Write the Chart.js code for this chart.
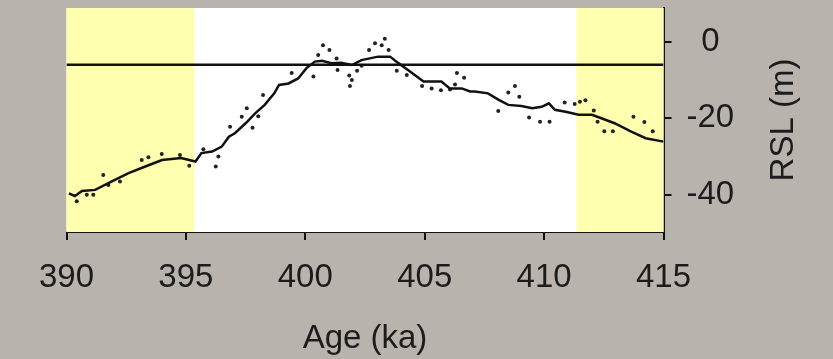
<!DOCTYPE html>
<html>
<head>
<meta charset="utf-8">
<script src="https://cdn.jsdelivr.net/npm/chart.js@4.4.1/dist/chart.umd.min.js"></script>
<style>
  body { margin: 0; background: #b8b3ac; }
  #caixa { width: 833px; height: 359px; position: relative; }
</style>
</head>
<body>
<div id="caixa"><canvas id="grafico"></canvas></div>
<script>
// curva suavizada (idade em ka, RSL em m)
const idadeCurva = [390.1, 390.35, 390.65, 391.2, 391.9, 392.6, 393.3, 394.0, 394.8, 395.4, 395.65, 396.1, 396.5, 396.8, 397.05, 397.5, 397.9, 398.3, 398.7, 398.9, 399.3, 399.7, 400.05, 400.4, 400.7, 401.1, 401.5, 401.95, 402.35, 403.05, 403.55, 403.9, 404.3, 404.95, 405.7, 406.05, 406.55, 406.9, 407.1, 407.65, 408.1, 408.5, 409.05, 409.5, 409.9, 410.2, 410.45, 410.9, 411.45, 412.0, 412.4, 412.95, 413.65, 414.25, 415.0]
const rslCurva = [-39.6, -40.3, -39.0, -38.7, -36.5, -34.3, -32.6, -30.9, -30.4, -31.3, -29.1, -28.7, -27.4, -24.8, -23.9, -21.3, -18.7, -16.5, -13.5, -11.3, -10.9, -9.6, -6.9, -5.2, -5.0, -5.6, -5.5, -6.1, -4.8, -3.9, -3.9, -5.6, -7.4, -10.4, -10.4, -12.2, -12.2, -13.0, -13.0, -13.5, -15.2, -16.5, -16.8, -17.4, -17.0, -16.1, -17.8, -18.3, -19.1, -19.1, -20.0, -21.3, -23.5, -25.2, -26.1]

// pontos medidos
const idadePontos = [390.43, 390.85, 391.12, 391.54, 391.75, 392.24, 393.15, 393.43, 393.99, 394.75, 395.14, 395.73, 396.25, 396.36, 396.85, 397.34, 397.55, 397.79, 398.03, 398.23, 399.43, 400.34, 400.54, 400.74, 401.01, 401.31, 401.35, 401.84, 401.95, 401.87, 402.17, 402.36, 402.67, 402.92, 403.2, 403.33, 403.49, 403.83, 404.25, 404.89, 405.29, 405.68, 406.06, 406.27, 406.35, 406.65, 408.08, 408.5, 408.78, 408.96, 409.37, 409.83, 410.23, 410.86, 411.28, 411.5, 411.73, 412.08, 412.24, 412.52, 412.88, 413.74, 414.2, 414.55]
const rslPontos = [-41.7, -40.0, -40.0, -34.8, -37.4, -36.5, -30.9, -30.2, -29.3, -29.6, -32.4, -28.1, -32.6, -30.0, -22.2, -19.6, -17.4, -22.5, -19.5, -13.9, -8.2, -9.1, -3.5, -0.9, -2.2, -4.4, -7.4, -8.8, -10.0, -11.6, -7.6, -6.3, -2.2, -0.4, -0.9, 0.8, -2.2, -7.6, -8.7, -11.6, -12.2, -12.7, -12.5, -11.2, -8.2, -9.4, -18.1, -13.3, -11.6, -14.4, -19.8, -20.9, -20.9, -15.9, -16.3, -15.7, -15.3, -18.0, -20.9, -23.4, -23.4, -19.6, -21.0, -23.4]

const faixasAmarelas = [[390, 395.35], [411.35, 415]]
const nivelReferencia = -6
const ticksRsl = [0, -20, -40]

const fonte = { family: "'Liberation Sans', Arial, sans-serif", size: 33 }
const corTexto = '#1c1c1c'

const pontosCurva = idadeCurva.map((x, i) => ({ x: x, y: rslCurva[i] }))
const pontosMedidos = idadePontos.map((x, i) => ({ x: x, y: rslPontos[i] }))

// fundo branco + faixas amarelas
const fundoPlugin = {
  id: 'fundo',
  beforeDatasetsDraw(chart) {
    const { ctx, chartArea, scales } = chart
    ctx.save()
    ctx.fillStyle = '#ffffff'
    ctx.fillRect(chartArea.left, chartArea.top, chartArea.right - chartArea.left, chartArea.bottom - chartArea.top)
    ctx.fillStyle = '#ffffb0'
    faixasAmarelas.forEach((f) => {
      const x1 = scales.x.getPixelForValue(f[0])
      const x2 = scales.x.getPixelForValue(f[1])
      ctx.fillRect(x1, chartArea.top, x2 - x1, chartArea.bottom - chartArea.top)
    })
    ctx.restore()
  }
}

// titulo do eixo y lido de baixo para cima
const tituloPlugin = {
  id: 'tituloRsl',
  afterDraw(chart) {
    const { ctx, chartArea } = chart
    ctx.save()
    ctx.translate(chartArea.right + 120.5, (chartArea.top + chartArea.bottom) / 2)
    ctx.rotate(-Math.PI / 2)
    ctx.font = fonte.size + 'px ' + fonte.family
    ctx.fillStyle = corTexto
    ctx.textAlign = 'center'
    ctx.textBaseline = 'middle'
    ctx.fillText('RSL (m)', 0, 0)
    ctx.restore()
  }
}

const grafico = new Chart(document.getElementById('grafico'), {
  type: 'scatter',
  data: {
    datasets: [
      {
        label: 'referencia',
        type: 'line',
        data: [{ x: 390, y: nivelReferencia }, { x: 415, y: nivelReferencia }],
        borderColor: '#111',
        borderWidth: 2.5,
        pointRadius: 0
      },
      {
        label: 'curva',
        type: 'line',
        data: pontosCurva,
        borderColor: '#111',
        borderWidth: 2.5,
        pointRadius: 0,
        tension: 0
      },
      {
        label: 'pontos',
        data: pontosMedidos,
        backgroundColor: '#222',
        borderWidth: 0,
        pointRadius: 2
      }
    ]
  },
  options: {
    responsive: true,
    maintainAspectRatio: false,
    animation: false,
    layout: { padding: { left: 66.5, top: 8, right: 0, bottom: 0 } },
    plugins: { legend: { display: false }, tooltip: { enabled: false } },
    scales: {
      x: {
        type: 'linear',
        min: 390,
        max: 415,
        afterFit(escala) {
          escala.height = 127
          escala.paddingLeft = 0
          escala.paddingRight = 0
        },
        border: { display: true, color: '#111', width: 2 },
        grid: { drawOnChartArea: false, drawTicks: true, tickLength: 8, color: '#111', lineWidth: 2 },
        ticks: { stepSize: 5, padding: 18, color: corTexto, font: fonte, maxRotation: 0 },
        title: { display: true, text: 'Age (ka)', color: corTexto, font: fonte, padding: { top: 0, bottom: 0 } }
      },
      y: {
        type: 'linear',
        position: 'right',
        min: -49.7,
        max: 8.8,
        afterFit(escala) {
          escala.width = 169.5
          escala.paddingTop = 0
          escala.paddingBottom = 0
        },
        afterBuildTicks(escala) { escala.ticks = ticksRsl.map((v) => ({ value: v })) },
        border: { display: true, color: '#111', width: 2 },
        grid: { drawOnChartArea: false, drawTicks: true, tickLength: 8, color: '#111', lineWidth: 2 },
        ticks: { padding: 15, crossAlign: 'center', color: corTexto, font: fonte }
      }
    }
  },
  plugins: [fundoPlugin, tituloPlugin]
})
</script>
</body>
</html>
